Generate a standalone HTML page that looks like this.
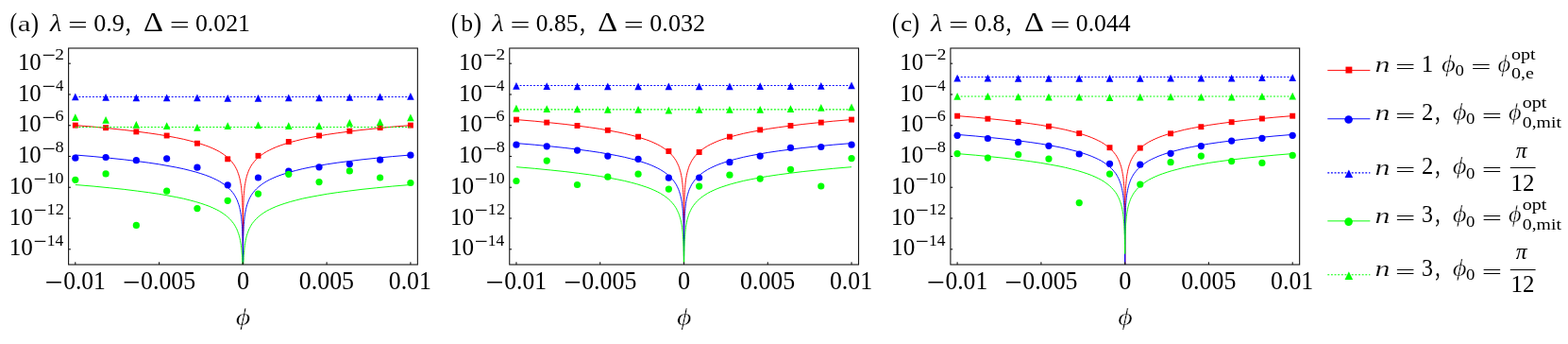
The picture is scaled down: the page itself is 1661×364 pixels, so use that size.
<!DOCTYPE html>
<html lang="en"><head><meta charset="utf-8"><title>figure</title><style>html,body{margin:0;padding:0;background:#fff}svg{display:block}</style></head><body>
<svg width="1661" height="364" viewBox="0 0 1661 364" font-family='"Liberation Serif", serif' fill="#000">
<rect width="1661" height="364" fill="#fff"/>
<text transform="translate(10.62 33.72) scale(0.895 1.153)" font-size="25.5">(</text>
<text transform="translate(18.82 33.25) scale(1.227 0.890)" font-size="25.5" stroke="#fff" stroke-width="0.19">a</text>
<text transform="translate(32.82 33.72) scale(0.971 1.153)" font-size="25.5">)</text>
<text transform="translate(53.02 33.38) scale(1.120 1.011)" font-size="25.5" font-style="italic" stroke="#fff" stroke-width="0.10">λ</text>
<text transform="translate(72.08 34.32) scale(1.446 0.935)" font-size="25.5">=</text>
<text transform="translate(99.13 33.25) scale(1.024 1.015)" font-size="25.5">0.9</text>
<text transform="translate(132.68 33.43) scale(0.964 1.185)" font-size="25.5">,</text>
<text transform="translate(151.98 33.28) scale(1.276 1.114)" font-size="25.5">Δ</text>
<text transform="translate(179.66 34.32) scale(1.463 0.935)" font-size="25.5">=</text>
<text transform="translate(206.94 33.25) scale(1.011 1.015)" font-size="25.5">0.021</text>
<text transform="translate(477.93 33.72) scale(0.879 1.153)" font-size="25.5">(</text>
<text transform="translate(488.22 33.25) scale(1.007 1.000)" font-size="25.5">b</text>
<text transform="translate(501.38 33.72) scale(1.017 1.153)" font-size="25.5">)</text>
<text transform="translate(521.32 33.38) scale(1.129 1.011)" font-size="25.5" font-style="italic" stroke="#fff" stroke-width="0.11">λ</text>
<text transform="translate(540.56 34.32) scale(1.463 0.935)" font-size="25.5">=</text>
<text transform="translate(567.85 33.25) scale(0.998 1.015)" font-size="25.5">0.85</text>
<text transform="translate(613.98 33.43) scale(0.964 1.185)" font-size="25.5">,</text>
<text transform="translate(633.18 33.28) scale(1.276 1.114)" font-size="25.5">Δ</text>
<text transform="translate(660.86 34.32) scale(1.463 0.935)" font-size="25.5">=</text>
<text transform="translate(688.33 33.25) scale(1.023 1.015)" font-size="25.5">0.032</text>
<text transform="translate(944.92 33.72) scale(0.895 1.153)" font-size="25.5">(</text>
<text transform="translate(953.88 33.25) scale(1.073 0.890)" font-size="25.5">c</text>
<text transform="translate(965.72 33.72) scale(0.971 1.153)" font-size="25.5">)</text>
<text transform="translate(985.92 33.38) scale(1.120 1.011)" font-size="25.5" font-style="italic" stroke="#fff" stroke-width="0.10">λ</text>
<text transform="translate(1004.98 34.32) scale(1.446 0.935)" font-size="25.5">=</text>
<text transform="translate(1032.03 33.25) scale(1.021 1.015)" font-size="25.5">0.8</text>
<text transform="translate(1065.58 33.43) scale(0.964 1.185)" font-size="25.5">,</text>
<text transform="translate(1084.88 33.28) scale(1.276 1.114)" font-size="25.5">Δ</text>
<text transform="translate(1112.56 34.32) scale(1.463 0.935)" font-size="25.5">=</text>
<text transform="translate(1139.84 33.25) scale(1.008 1.015)" font-size="25.5">0.044</text>
<g>
<path d="M79.8,132.6 99.1,134.2 116.3,135.9 131.7,137.5 145.3,139.2 157.5,140.8 168.4,142.4 178.0,144.1 186.7,145.7 194.4,147.3 201.2,149.0 207.3,150.6 212.8,152.3 217.6,153.9 221.9,155.5 225.8,157.2 229.2,158.8 232.3,160.4 235.0,162.1 237.4,163.7 239.6,165.4 241.5,167.0 243.2,168.6 244.8,170.3 246.1,171.9 247.4,173.5 248.5,175.2 249.4,176.8 250.3,178.5 251.1,180.1 251.7,181.7 252.3,183.4 252.9,185.0 253.4,186.7 253.8,188.3 254.2,189.9 254.5,191.6 254.8,193.2 255.1,194.8 255.4,196.5 255.6,198.1 255.8,199.8 255.9,201.4 256.1,203.0 256.2,204.7 256.4,206.3 256.5,207.9 256.6,209.6 256.6,211.2 256.7,212.9 256.8,214.5 256.8,216.1 256.9,217.8 257.0,219.4 257.0,221.1 257.0,222.7 257.1,224.3 257.1,226.0 257.1,227.6 257.2,229.2 257.2,230.9 257.4,280.0 257.5,230.9 257.5,229.2 257.6,227.6 257.6,226.0 257.6,224.3 257.7,222.7 257.7,221.1 257.7,219.4 257.8,217.8 257.9,216.1 257.9,214.5 258.0,212.9 258.1,211.2 258.1,209.6 258.2,207.9 258.3,206.3 258.5,204.7 258.6,203.0 258.8,201.4 258.9,199.8 259.1,198.1 259.3,196.5 259.6,194.8 259.9,193.2 260.2,191.6 260.5,189.9 260.9,188.3 261.3,186.7 261.8,185.0 262.4,183.4 263.0,181.7 263.6,180.1 264.4,178.5 265.3,176.8 266.2,175.2 267.3,173.5 268.6,171.9 269.9,170.3 271.5,168.6 273.2,167.0 275.1,165.4 277.3,163.7 279.7,162.1 282.4,160.4 285.5,158.8 288.9,157.2 292.8,155.5 297.1,153.9 301.9,152.3 307.4,150.6 313.5,149.0 320.3,147.3 328.0,145.7 336.7,144.1 346.3,142.4 357.2,140.8 369.4,139.2 383.0,137.5 398.4,135.9 415.6,134.2 434.9,132.6" fill="none" stroke="#ff0000" stroke-width="0.95" stroke-linejoin="round"/>
<rect x="76.85" y="129.65" width="5.9" height="5.9" fill="#ff0000"/>
<rect x="109.13" y="132.25" width="5.9" height="5.9" fill="#ff0000"/>
<rect x="141.41" y="136.45" width="5.9" height="5.9" fill="#ff0000"/>
<rect x="173.70" y="140.55" width="5.9" height="5.9" fill="#ff0000"/>
<rect x="205.98" y="148.75" width="5.9" height="5.9" fill="#ff0000"/>
<rect x="238.26" y="165.35" width="5.9" height="5.9" fill="#ff0000"/>
<rect x="270.54" y="161.85" width="5.9" height="5.9" fill="#ff0000"/>
<rect x="302.82" y="147.05" width="5.9" height="5.9" fill="#ff0000"/>
<rect x="335.10" y="140.55" width="5.9" height="5.9" fill="#ff0000"/>
<rect x="367.39" y="135.75" width="5.9" height="5.9" fill="#ff0000"/>
<rect x="399.67" y="132.15" width="5.9" height="5.9" fill="#ff0000"/>
<rect x="431.95" y="129.65" width="5.9" height="5.9" fill="#ff0000"/>
<path d="M79.8,164.0 99.1,165.6 116.3,167.3 131.7,168.9 145.3,170.6 157.5,172.2 168.4,173.8 178.0,175.5 186.7,177.1 194.4,178.7 201.2,180.4 207.3,182.0 212.8,183.7 217.6,185.3 221.9,186.9 225.8,188.6 229.2,190.2 232.3,191.8 235.0,193.5 237.4,195.1 239.6,196.8 241.5,198.4 243.2,200.0 244.8,201.7 246.1,203.3 247.4,204.9 248.5,206.6 249.4,208.2 250.3,209.9 251.1,211.5 251.7,213.1 252.3,214.8 252.9,216.4 253.4,218.1 253.8,219.7 254.2,221.3 254.5,223.0 254.8,224.6 255.1,226.2 255.4,227.9 255.6,229.5 255.8,231.2 255.9,232.8 256.1,234.4 256.2,236.1 256.4,237.7 256.5,239.3 256.6,241.0 256.6,242.6 256.7,244.3 256.8,245.9 256.8,247.5 256.9,249.2 257.0,250.8 257.0,252.5 257.0,254.1 257.1,255.7 257.1,257.4 257.1,259.0 257.2,260.6 257.2,262.3 257.4,280.0 257.5,262.3 257.5,260.6 257.6,259.0 257.6,257.4 257.6,255.7 257.7,254.1 257.7,252.5 257.7,250.8 257.8,249.2 257.9,247.5 257.9,245.9 258.0,244.3 258.1,242.6 258.1,241.0 258.2,239.3 258.3,237.7 258.5,236.1 258.6,234.4 258.8,232.8 258.9,231.2 259.1,229.5 259.3,227.9 259.6,226.2 259.9,224.6 260.2,223.0 260.5,221.3 260.9,219.7 261.3,218.1 261.8,216.4 262.4,214.8 263.0,213.1 263.6,211.5 264.4,209.9 265.3,208.2 266.2,206.6 267.3,204.9 268.6,203.3 269.9,201.7 271.5,200.0 273.2,198.4 275.1,196.8 277.3,195.1 279.7,193.5 282.4,191.8 285.5,190.2 288.9,188.6 292.8,186.9 297.1,185.3 301.9,183.7 307.4,182.0 313.5,180.4 320.3,178.7 328.0,177.1 336.7,175.5 346.3,173.8 357.2,172.2 369.4,170.6 383.0,168.9 398.4,167.3 415.6,165.6 434.9,164.0" fill="none" stroke="#0000ff" stroke-width="0.95" stroke-linejoin="round"/>
<circle cx="79.80" cy="167.20" r="3.6" fill="#0000ff"/>
<circle cx="112.08" cy="166.50" r="3.6" fill="#0000ff"/>
<circle cx="144.36" cy="169.70" r="3.6" fill="#0000ff"/>
<circle cx="176.65" cy="167.80" r="3.6" fill="#0000ff"/>
<circle cx="208.93" cy="177.20" r="3.6" fill="#0000ff"/>
<circle cx="241.21" cy="195.80" r="3.6" fill="#0000ff"/>
<circle cx="273.49" cy="188.00" r="3.6" fill="#0000ff"/>
<circle cx="305.77" cy="181.10" r="3.6" fill="#0000ff"/>
<circle cx="338.05" cy="176.80" r="3.6" fill="#0000ff"/>
<circle cx="370.34" cy="173.60" r="3.6" fill="#0000ff"/>
<circle cx="402.62" cy="169.20" r="3.6" fill="#0000ff"/>
<circle cx="434.90" cy="164.20" r="3.6" fill="#0000ff"/>
<line x1="79.80" x2="434.90" y1="102.5" y2="102.5" stroke="#0000ff" stroke-width="1.1" stroke-dasharray="1.9 1.74"/>
<polygon points="79.80,98.40 83.58,106.15 76.03,106.15" fill="#0000ff"/>
<polygon points="112.08,99.10 115.86,106.85 108.31,106.85" fill="#0000ff"/>
<polygon points="144.36,99.50 148.14,107.25 140.59,107.25" fill="#0000ff"/>
<polygon points="176.65,99.50 180.42,107.25 172.87,107.25" fill="#0000ff"/>
<polygon points="208.93,99.50 212.70,107.25 205.15,107.25" fill="#0000ff"/>
<polygon points="241.21,100.00 244.98,107.75 237.43,107.75" fill="#0000ff"/>
<polygon points="273.49,100.00 277.27,107.75 269.72,107.75" fill="#0000ff"/>
<polygon points="305.77,99.50 309.55,107.25 302.00,107.25" fill="#0000ff"/>
<polygon points="338.05,99.50 341.83,107.25 334.28,107.25" fill="#0000ff"/>
<polygon points="370.34,99.10 374.11,106.85 366.56,106.85" fill="#0000ff"/>
<polygon points="402.62,98.60 406.39,106.35 398.84,106.35" fill="#0000ff"/>
<polygon points="434.90,97.90 438.68,105.65 431.13,105.65" fill="#0000ff"/>
<path d="M79.8,195.5 99.1,197.1 116.3,198.8 131.7,200.4 145.3,202.1 157.5,203.7 168.4,205.3 178.0,207.0 186.7,208.6 194.4,210.2 201.2,211.9 207.3,213.5 212.8,215.2 217.6,216.8 221.9,218.4 225.8,220.1 229.2,221.7 232.3,223.3 235.0,225.0 237.4,226.6 239.6,228.3 241.5,229.9 243.2,231.5 244.8,233.2 246.1,234.8 247.4,236.4 248.5,238.1 249.4,239.7 250.3,241.4 251.1,243.0 251.7,244.6 252.3,246.3 252.9,247.9 253.4,249.6 253.8,251.2 254.2,252.8 254.5,254.5 254.8,256.1 255.1,257.7 255.4,259.4 255.6,261.0 255.8,262.7 255.9,264.3 256.1,265.9 256.2,267.6 256.4,269.2 256.5,270.8 256.6,272.5 256.6,274.1 256.7,275.8 256.8,277.4 256.8,279.0 257.4,280.0 257.9,279.0 257.9,277.4 258.0,275.8 258.1,274.1 258.1,272.5 258.2,270.8 258.3,269.2 258.5,267.6 258.6,265.9 258.8,264.3 258.9,262.7 259.1,261.0 259.3,259.4 259.6,257.7 259.9,256.1 260.2,254.5 260.5,252.8 260.9,251.2 261.3,249.6 261.8,247.9 262.4,246.3 263.0,244.6 263.6,243.0 264.4,241.4 265.3,239.7 266.2,238.1 267.3,236.4 268.6,234.8 269.9,233.2 271.5,231.5 273.2,229.9 275.1,228.3 277.3,226.6 279.7,225.0 282.4,223.3 285.5,221.7 288.9,220.1 292.8,218.4 297.1,216.8 301.9,215.2 307.4,213.5 313.5,211.9 320.3,210.2 328.0,208.6 336.7,207.0 346.3,205.3 357.2,203.7 369.4,202.1 383.0,200.4 398.4,198.8 415.6,197.1 434.9,195.5" fill="none" stroke="#00ff00" stroke-width="0.95" stroke-linejoin="round"/>
<circle cx="79.80" cy="190.30" r="3.6" fill="#00ff00"/>
<circle cx="112.08" cy="183.90" r="3.6" fill="#00ff00"/>
<circle cx="144.36" cy="238.40" r="3.6" fill="#00ff00"/>
<circle cx="176.65" cy="202.20" r="3.6" fill="#00ff00"/>
<circle cx="208.93" cy="220.60" r="3.6" fill="#00ff00"/>
<circle cx="241.21" cy="212.30" r="3.6" fill="#00ff00"/>
<circle cx="273.49" cy="205.10" r="3.6" fill="#00ff00"/>
<circle cx="305.77" cy="184.30" r="3.6" fill="#00ff00"/>
<circle cx="338.05" cy="192.60" r="3.6" fill="#00ff00"/>
<circle cx="370.34" cy="180.90" r="3.6" fill="#00ff00"/>
<circle cx="402.62" cy="188.00" r="3.6" fill="#00ff00"/>
<circle cx="434.90" cy="193.50" r="3.6" fill="#00ff00"/>
<line x1="79.80" x2="434.90" y1="134.5" y2="134.5" stroke="#00ff00" stroke-width="1.1" stroke-dasharray="1.9 1.74"/>
<polygon points="79.80,120.30 83.58,128.05 76.03,128.05" fill="#00ff00"/>
<polygon points="112.08,123.00 115.86,130.75 108.31,130.75" fill="#00ff00"/>
<polygon points="144.36,128.10 148.14,135.85 140.59,135.85" fill="#00ff00"/>
<polygon points="176.65,129.30 180.42,137.05 172.87,137.05" fill="#00ff00"/>
<polygon points="208.93,131.10 212.70,138.85 205.15,138.85" fill="#00ff00"/>
<polygon points="241.21,129.30 244.98,137.05 237.43,137.05" fill="#00ff00"/>
<polygon points="273.49,128.60 277.27,136.35 269.72,136.35" fill="#00ff00"/>
<polygon points="305.77,129.30 309.55,137.05 302.00,137.05" fill="#00ff00"/>
<polygon points="338.05,129.30 341.83,137.05 334.28,137.05" fill="#00ff00"/>
<polygon points="370.34,126.10 374.11,133.85 366.56,133.85" fill="#00ff00"/>
<polygon points="402.62,125.20 406.39,132.95 398.84,132.95" fill="#00ff00"/>
<polygon points="434.90,120.60 438.68,128.35 431.13,128.35" fill="#00ff00"/>
<rect x="72.60" y="51.0" width="369.75" height="229.00" fill="none" stroke="#151515" stroke-width="1.1"/>
<line x1="72.60" x2="74.90" y1="67.20" y2="67.20" stroke="#151515" stroke-width="1.1"/>
<text transform="translate(18.93 73.83) scale(0.976 1.020)" font-size="25.5">10</text>
<text transform="translate(44.55 66.28) scale(0.999 0.913)" font-size="25.5">−</text>
<text transform="translate(58.37 63.08) scale(0.759 0.673)" font-size="25.5">2</text>
<line x1="72.60" x2="74.90" y1="99.96" y2="99.96" stroke="#151515" stroke-width="1.1"/>
<text transform="translate(18.93 106.59) scale(0.976 1.020)" font-size="25.5">10</text>
<text transform="translate(44.55 99.04) scale(0.999 0.913)" font-size="25.5">−</text>
<text transform="translate(58.89 95.84) scale(0.655 0.677)" font-size="25.5">4</text>
<line x1="72.60" x2="74.90" y1="132.72" y2="132.72" stroke="#151515" stroke-width="1.1"/>
<text transform="translate(18.93 139.35) scale(0.976 1.020)" font-size="25.5">10</text>
<text transform="translate(44.55 131.80) scale(0.999 0.913)" font-size="25.5">−</text>
<text transform="translate(58.44 128.43) scale(0.712 0.663)" font-size="25.5">6</text>
<line x1="72.60" x2="74.90" y1="165.48" y2="165.48" stroke="#151515" stroke-width="1.1"/>
<text transform="translate(18.93 172.11) scale(0.976 1.020)" font-size="25.5">10</text>
<text transform="translate(44.55 164.56) scale(0.999 0.913)" font-size="25.5">−</text>
<text transform="translate(58.52 161.20) scale(0.718 0.660)" font-size="25.5">8</text>
<line x1="72.60" x2="74.90" y1="198.24" y2="198.24" stroke="#151515" stroke-width="1.1"/>
<text transform="translate(9.81 204.87) scale(0.985 1.020)" font-size="25.5">10</text>
<text transform="translate(35.48 197.32) scale(0.974 0.913)" font-size="25.5">−</text>
<text transform="translate(49.65 193.96) scale(0.703 0.660)" font-size="25.5">10</text>
<line x1="72.60" x2="74.90" y1="231.00" y2="231.00" stroke="#151515" stroke-width="1.1"/>
<text transform="translate(9.81 237.63) scale(0.985 1.020)" font-size="25.5">10</text>
<text transform="translate(35.48 230.08) scale(0.974 0.913)" font-size="25.5">−</text>
<text transform="translate(49.61 226.88) scale(0.717 0.673)" font-size="25.5">12</text>
<line x1="72.60" x2="74.90" y1="263.76" y2="263.76" stroke="#151515" stroke-width="1.1"/>
<text transform="translate(9.81 270.39) scale(0.985 1.020)" font-size="25.5">10</text>
<text transform="translate(35.48 262.84) scale(0.974 0.913)" font-size="25.5">−</text>
<text transform="translate(49.68 259.64) scale(0.685 0.675)" font-size="25.5">14</text>
<line x1="79.80" x2="79.80" y1="280.0" y2="277.2" stroke="#151515" stroke-width="1.1"/>
<line x1="168.58" x2="168.58" y1="280.0" y2="277.2" stroke="#151515" stroke-width="1.1"/>
<line x1="257.35" x2="257.35" y1="280.0" y2="277.2" stroke="#151515" stroke-width="1.1"/>
<line x1="346.12" x2="346.12" y1="280.0" y2="277.2" stroke="#151515" stroke-width="1.1"/>
<line x1="434.90" x2="434.90" y1="280.0" y2="277.2" stroke="#151515" stroke-width="1.1"/>
<text transform="translate(47.42 309.30) scale(1.337 1.228)" font-size="25.5">−</text>
<text transform="translate(67.15 305.51) scale(1.003 1.031)" font-size="25.5">0.01</text>
<text transform="translate(129.98 309.30) scale(1.294 1.228)" font-size="25.5">−</text>
<text transform="translate(149.03 305.70) scale(1.015 1.043)" font-size="25.5">0.005</text>
<text transform="translate(250.92 305.82) scale(1.033 1.050)" font-size="25.5">0</text>
<text transform="translate(316.83 305.70) scale(1.015 1.043)" font-size="25.5">0.005</text>
<text transform="translate(411.74 305.51) scale(1.013 1.031)" font-size="25.5">0.01</text>
<text transform="translate(249.83 343.72) scale(1.178 1.006)" font-size="25.5" font-style="italic" stroke="#fff" stroke-width="0.40">ϕ</text>
</g>
<g>
<path d="M547.0,126.6 566.3,128.2 583.5,129.9 598.8,131.5 612.5,133.2 624.7,134.8 635.5,136.4 645.2,138.1 653.8,139.7 661.5,141.3 668.4,143.0 674.5,144.6 679.9,146.3 684.8,147.9 689.1,149.5 692.9,151.2 696.4,152.8 699.4,154.4 702.1,156.1 704.6,157.7 706.7,159.4 708.7,161.0 710.4,162.6 711.9,164.3 713.3,165.9 714.5,167.5 715.6,169.2 716.6,170.8 717.4,172.5 718.2,174.1 718.9,175.7 719.5,177.4 720.0,179.0 720.5,180.7 721.0,182.3 721.3,183.9 721.7,185.6 722.0,187.2 722.3,188.8 722.5,190.5 722.7,192.1 722.9,193.8 723.1,195.4 723.2,197.0 723.4,198.7 723.5,200.3 723.6,201.9 723.7,203.6 723.8,205.2 723.9,206.9 723.9,208.5 724.0,210.1 724.1,211.8 724.1,213.4 724.1,215.1 724.2,216.7 724.2,218.3 724.2,220.0 724.3,221.6 724.3,223.2 724.3,224.9 724.5,280.0 724.7,224.9 724.7,223.2 724.7,221.6 724.8,220.0 724.8,218.3 724.8,216.7 724.9,215.1 724.9,213.4 724.9,211.8 725.0,210.1 725.1,208.5 725.1,206.9 725.2,205.2 725.3,203.6 725.4,201.9 725.5,200.3 725.6,198.7 725.8,197.0 725.9,195.4 726.1,193.8 726.3,192.1 726.5,190.5 726.7,188.8 727.0,187.2 727.3,185.6 727.7,183.9 728.0,182.3 728.5,180.7 729.0,179.0 729.5,177.4 730.1,175.7 730.8,174.1 731.6,172.5 732.4,170.8 733.4,169.2 734.5,167.5 735.7,165.9 737.1,164.3 738.6,162.6 740.3,161.0 742.3,159.4 744.4,157.7 746.9,156.1 749.6,154.4 752.6,152.8 756.1,151.2 759.9,149.5 764.2,147.9 769.1,146.3 774.5,144.6 780.6,143.0 787.5,141.3 795.2,139.7 803.8,138.1 813.5,136.4 824.3,134.8 836.5,133.2 850.2,131.5 865.5,129.9 882.7,128.2 902.0,126.6" fill="none" stroke="#ff0000" stroke-width="0.95" stroke-linejoin="round"/>
<rect x="544.00" y="123.65" width="5.9" height="5.9" fill="#ff0000"/>
<rect x="576.28" y="126.65" width="5.9" height="5.9" fill="#ff0000"/>
<rect x="608.56" y="130.05" width="5.9" height="5.9" fill="#ff0000"/>
<rect x="640.85" y="134.85" width="5.9" height="5.9" fill="#ff0000"/>
<rect x="673.13" y="141.75" width="5.9" height="5.9" fill="#ff0000"/>
<rect x="705.41" y="157.05" width="5.9" height="5.9" fill="#ff0000"/>
<rect x="737.69" y="158.05" width="5.9" height="5.9" fill="#ff0000"/>
<rect x="769.97" y="141.75" width="5.9" height="5.9" fill="#ff0000"/>
<rect x="802.25" y="134.45" width="5.9" height="5.9" fill="#ff0000"/>
<rect x="834.54" y="130.05" width="5.9" height="5.9" fill="#ff0000"/>
<rect x="866.82" y="126.65" width="5.9" height="5.9" fill="#ff0000"/>
<rect x="899.10" y="123.65" width="5.9" height="5.9" fill="#ff0000"/>
<path d="M547.0,151.6 566.3,153.2 583.5,154.9 598.8,156.5 612.5,158.2 624.7,159.8 635.5,161.4 645.2,163.1 653.8,164.7 661.5,166.3 668.4,168.0 674.5,169.6 679.9,171.3 684.8,172.9 689.1,174.5 692.9,176.2 696.4,177.8 699.4,179.4 702.1,181.1 704.6,182.7 706.7,184.4 708.7,186.0 710.4,187.6 711.9,189.3 713.3,190.9 714.5,192.5 715.6,194.2 716.6,195.8 717.4,197.5 718.2,199.1 718.9,200.7 719.5,202.4 720.0,204.0 720.5,205.7 721.0,207.3 721.3,208.9 721.7,210.6 722.0,212.2 722.3,213.8 722.5,215.5 722.7,217.1 722.9,218.8 723.1,220.4 723.2,222.0 723.4,223.7 723.5,225.3 723.6,226.9 723.7,228.6 723.8,230.2 723.9,231.9 723.9,233.5 724.0,235.1 724.1,236.8 724.1,238.4 724.1,240.1 724.2,241.7 724.2,243.3 724.2,245.0 724.3,246.6 724.3,248.2 724.3,249.9 724.5,280.0 724.7,249.9 724.7,248.2 724.7,246.6 724.8,245.0 724.8,243.3 724.8,241.7 724.9,240.1 724.9,238.4 724.9,236.8 725.0,235.1 725.1,233.5 725.1,231.9 725.2,230.2 725.3,228.6 725.4,226.9 725.5,225.3 725.6,223.7 725.8,222.0 725.9,220.4 726.1,218.8 726.3,217.1 726.5,215.5 726.7,213.8 727.0,212.2 727.3,210.6 727.7,208.9 728.0,207.3 728.5,205.7 729.0,204.0 729.5,202.4 730.1,200.7 730.8,199.1 731.6,197.5 732.4,195.8 733.4,194.2 734.5,192.5 735.7,190.9 737.1,189.3 738.6,187.6 740.3,186.0 742.3,184.4 744.4,182.7 746.9,181.1 749.6,179.4 752.6,177.8 756.1,176.2 759.9,174.5 764.2,172.9 769.1,171.3 774.5,169.6 780.6,168.0 787.5,166.3 795.2,164.7 803.8,163.1 813.5,161.4 824.3,159.8 836.5,158.2 850.2,156.5 865.5,154.9 882.7,153.2 902.0,151.6" fill="none" stroke="#0000ff" stroke-width="0.95" stroke-linejoin="round"/>
<circle cx="546.95" cy="153.20" r="3.6" fill="#0000ff"/>
<circle cx="579.23" cy="154.80" r="3.6" fill="#0000ff"/>
<circle cx="611.51" cy="159.10" r="3.6" fill="#0000ff"/>
<circle cx="643.80" cy="165.10" r="3.6" fill="#0000ff"/>
<circle cx="676.08" cy="168.30" r="3.6" fill="#0000ff"/>
<circle cx="708.36" cy="188.20" r="3.6" fill="#0000ff"/>
<circle cx="740.64" cy="188.00" r="3.6" fill="#0000ff"/>
<circle cx="772.92" cy="171.70" r="3.6" fill="#0000ff"/>
<circle cx="805.20" cy="165.10" r="3.6" fill="#0000ff"/>
<circle cx="837.49" cy="156.40" r="3.6" fill="#0000ff"/>
<circle cx="869.77" cy="155.50" r="3.6" fill="#0000ff"/>
<circle cx="902.05" cy="153.20" r="3.6" fill="#0000ff"/>
<line x1="546.95" x2="902.05" y1="90.5" y2="90.5" stroke="#0000ff" stroke-width="1.1" stroke-dasharray="1.9 1.74"/>
<polygon points="546.95,87.00 550.73,94.75 543.18,94.75" fill="#0000ff"/>
<polygon points="579.23,87.20 583.01,94.95 575.46,94.95" fill="#0000ff"/>
<polygon points="611.51,87.60 615.29,95.35 607.74,95.35" fill="#0000ff"/>
<polygon points="643.80,87.60 647.57,95.35 640.02,95.35" fill="#0000ff"/>
<polygon points="676.08,87.60 679.85,95.35 672.30,95.35" fill="#0000ff"/>
<polygon points="708.36,87.60 712.13,95.35 704.58,95.35" fill="#0000ff"/>
<polygon points="740.64,87.60 744.42,95.35 736.87,95.35" fill="#0000ff"/>
<polygon points="772.92,87.60 776.70,95.35 769.15,95.35" fill="#0000ff"/>
<polygon points="805.20,87.20 808.98,94.95 801.43,94.95" fill="#0000ff"/>
<polygon points="837.49,87.20 841.26,94.95 833.71,94.95" fill="#0000ff"/>
<polygon points="869.77,87.00 873.54,94.75 865.99,94.75" fill="#0000ff"/>
<polygon points="902.05,86.50 905.82,94.25 898.27,94.25" fill="#0000ff"/>
<path d="M547.0,176.7 566.3,178.3 583.5,180.0 598.8,181.6 612.5,183.3 624.7,184.9 635.5,186.5 645.2,188.2 653.8,189.8 661.5,191.4 668.4,193.1 674.5,194.7 679.9,196.4 684.8,198.0 689.1,199.6 692.9,201.3 696.4,202.9 699.4,204.5 702.1,206.2 704.6,207.8 706.7,209.5 708.7,211.1 710.4,212.7 711.9,214.4 713.3,216.0 714.5,217.6 715.6,219.3 716.6,220.9 717.4,222.6 718.2,224.2 718.9,225.8 719.5,227.5 720.0,229.1 720.5,230.8 721.0,232.4 721.3,234.0 721.7,235.7 722.0,237.3 722.3,238.9 722.5,240.6 722.7,242.2 722.9,243.9 723.1,245.5 723.2,247.1 723.4,248.8 723.5,250.4 723.6,252.0 723.7,253.7 723.8,255.3 723.9,257.0 723.9,258.6 724.0,260.2 724.1,261.9 724.1,263.5 724.1,265.2 724.2,266.8 724.2,268.4 724.2,270.1 724.3,271.7 724.3,273.3 724.3,275.0 724.5,280.0 724.7,275.0 724.7,273.3 724.7,271.7 724.8,270.1 724.8,268.4 724.8,266.8 724.9,265.2 724.9,263.5 724.9,261.9 725.0,260.2 725.1,258.6 725.1,257.0 725.2,255.3 725.3,253.7 725.4,252.0 725.5,250.4 725.6,248.8 725.8,247.1 725.9,245.5 726.1,243.9 726.3,242.2 726.5,240.6 726.7,238.9 727.0,237.3 727.3,235.7 727.7,234.0 728.0,232.4 728.5,230.8 729.0,229.1 729.5,227.5 730.1,225.8 730.8,224.2 731.6,222.6 732.4,220.9 733.4,219.3 734.5,217.6 735.7,216.0 737.1,214.4 738.6,212.7 740.3,211.1 742.3,209.5 744.4,207.8 746.9,206.2 749.6,204.5 752.6,202.9 756.1,201.3 759.9,199.6 764.2,198.0 769.1,196.4 774.5,194.7 780.6,193.1 787.5,191.4 795.2,189.8 803.8,188.2 813.5,186.5 824.3,184.9 836.5,183.3 850.2,181.6 865.5,180.0 882.7,178.3 902.0,176.7" fill="none" stroke="#00ff00" stroke-width="0.95" stroke-linejoin="round"/>
<circle cx="546.95" cy="191.50" r="3.6" fill="#00ff00"/>
<circle cx="579.23" cy="170.10" r="3.6" fill="#00ff00"/>
<circle cx="611.51" cy="195.50" r="3.6" fill="#00ff00"/>
<circle cx="643.80" cy="187.20" r="3.6" fill="#00ff00"/>
<circle cx="676.08" cy="184.20" r="3.6" fill="#00ff00"/>
<circle cx="708.36" cy="200.10" r="3.6" fill="#00ff00"/>
<circle cx="740.64" cy="197.10" r="3.6" fill="#00ff00"/>
<circle cx="772.92" cy="185.20" r="3.6" fill="#00ff00"/>
<circle cx="805.20" cy="189.10" r="3.6" fill="#00ff00"/>
<circle cx="837.49" cy="179.30" r="3.6" fill="#00ff00"/>
<circle cx="869.77" cy="197.00" r="3.6" fill="#00ff00"/>
<circle cx="902.05" cy="167.60" r="3.6" fill="#00ff00"/>
<line x1="546.95" x2="902.05" y1="115.85" y2="115.85" stroke="#00ff00" stroke-width="1.1" stroke-dasharray="1.9 1.74"/>
<polygon points="546.95,110.70 550.73,118.45 543.18,118.45" fill="#00ff00"/>
<polygon points="579.23,111.20 583.01,118.95 575.46,118.95" fill="#00ff00"/>
<polygon points="611.51,111.60 615.29,119.35 607.74,119.35" fill="#00ff00"/>
<polygon points="643.80,111.90 647.57,119.65 640.02,119.65" fill="#00ff00"/>
<polygon points="676.08,111.90 679.85,119.65 672.30,119.65" fill="#00ff00"/>
<polygon points="708.36,112.80 712.13,120.55 704.58,120.55" fill="#00ff00"/>
<polygon points="740.64,112.10 744.42,119.85 736.87,119.85" fill="#00ff00"/>
<polygon points="772.92,112.10 776.70,119.85 769.15,119.85" fill="#00ff00"/>
<polygon points="805.20,111.90 808.98,119.65 801.43,119.65" fill="#00ff00"/>
<polygon points="837.49,111.20 841.26,118.95 833.71,118.95" fill="#00ff00"/>
<polygon points="869.77,110.00 873.54,117.75 865.99,117.75" fill="#00ff00"/>
<polygon points="902.05,109.60 905.82,117.35 898.27,117.35" fill="#00ff00"/>
<rect x="539.75" y="51.0" width="369.75" height="229.00" fill="none" stroke="#151515" stroke-width="1.1"/>
<line x1="539.75" x2="542.05" y1="67.20" y2="67.20" stroke="#151515" stroke-width="1.1"/>
<text transform="translate(486.08 73.83) scale(0.976 1.020)" font-size="25.5">10</text>
<text transform="translate(511.70 66.28) scale(0.999 0.913)" font-size="25.5">−</text>
<text transform="translate(525.52 63.08) scale(0.759 0.673)" font-size="25.5">2</text>
<line x1="539.75" x2="542.05" y1="99.96" y2="99.96" stroke="#151515" stroke-width="1.1"/>
<text transform="translate(486.08 106.59) scale(0.976 1.020)" font-size="25.5">10</text>
<text transform="translate(511.70 99.04) scale(0.999 0.913)" font-size="25.5">−</text>
<text transform="translate(526.04 95.84) scale(0.655 0.677)" font-size="25.5">4</text>
<line x1="539.75" x2="542.05" y1="132.72" y2="132.72" stroke="#151515" stroke-width="1.1"/>
<text transform="translate(486.08 139.35) scale(0.976 1.020)" font-size="25.5">10</text>
<text transform="translate(511.70 131.80) scale(0.999 0.913)" font-size="25.5">−</text>
<text transform="translate(525.59 128.43) scale(0.712 0.663)" font-size="25.5">6</text>
<line x1="539.75" x2="542.05" y1="165.48" y2="165.48" stroke="#151515" stroke-width="1.1"/>
<text transform="translate(486.08 172.11) scale(0.976 1.020)" font-size="25.5">10</text>
<text transform="translate(511.70 164.56) scale(0.999 0.913)" font-size="25.5">−</text>
<text transform="translate(525.67 161.20) scale(0.718 0.660)" font-size="25.5">8</text>
<line x1="539.75" x2="542.05" y1="198.24" y2="198.24" stroke="#151515" stroke-width="1.1"/>
<text transform="translate(476.96 204.87) scale(0.985 1.020)" font-size="25.5">10</text>
<text transform="translate(502.63 197.32) scale(0.974 0.913)" font-size="25.5">−</text>
<text transform="translate(516.80 193.96) scale(0.703 0.660)" font-size="25.5">10</text>
<line x1="539.75" x2="542.05" y1="231.00" y2="231.00" stroke="#151515" stroke-width="1.1"/>
<text transform="translate(476.96 237.63) scale(0.985 1.020)" font-size="25.5">10</text>
<text transform="translate(502.63 230.08) scale(0.974 0.913)" font-size="25.5">−</text>
<text transform="translate(516.76 226.88) scale(0.717 0.673)" font-size="25.5">12</text>
<line x1="539.75" x2="542.05" y1="263.76" y2="263.76" stroke="#151515" stroke-width="1.1"/>
<text transform="translate(476.96 270.39) scale(0.985 1.020)" font-size="25.5">10</text>
<text transform="translate(502.63 262.84) scale(0.974 0.913)" font-size="25.5">−</text>
<text transform="translate(516.83 259.64) scale(0.685 0.675)" font-size="25.5">14</text>
<line x1="546.95" x2="546.95" y1="280.0" y2="277.2" stroke="#151515" stroke-width="1.1"/>
<line x1="635.73" x2="635.73" y1="280.0" y2="277.2" stroke="#151515" stroke-width="1.1"/>
<line x1="724.50" x2="724.50" y1="280.0" y2="277.2" stroke="#151515" stroke-width="1.1"/>
<line x1="813.27" x2="813.27" y1="280.0" y2="277.2" stroke="#151515" stroke-width="1.1"/>
<line x1="902.05" x2="902.05" y1="280.0" y2="277.2" stroke="#151515" stroke-width="1.1"/>
<text transform="translate(514.57 309.30) scale(1.337 1.228)" font-size="25.5">−</text>
<text transform="translate(534.30 305.51) scale(1.003 1.031)" font-size="25.5">0.01</text>
<text transform="translate(597.13 309.30) scale(1.294 1.228)" font-size="25.5">−</text>
<text transform="translate(616.18 305.70) scale(1.015 1.043)" font-size="25.5">0.005</text>
<text transform="translate(718.07 305.82) scale(1.033 1.050)" font-size="25.5">0</text>
<text transform="translate(783.98 305.70) scale(1.015 1.043)" font-size="25.5">0.005</text>
<text transform="translate(878.89 305.51) scale(1.013 1.031)" font-size="25.5">0.01</text>
<text transform="translate(716.98 343.72) scale(1.178 1.006)" font-size="25.5" font-style="italic" stroke="#fff" stroke-width="0.40">ϕ</text>
</g>
<g>
<path d="M1014.1,122.6 1033.4,124.2 1050.6,125.9 1066.0,127.5 1079.6,129.2 1091.8,130.8 1102.7,132.4 1112.3,134.1 1121.0,135.7 1128.7,137.3 1135.5,139.0 1141.6,140.6 1147.1,142.3 1151.9,143.9 1156.2,145.5 1160.1,147.2 1163.5,148.8 1166.6,150.4 1169.3,152.1 1171.7,153.7 1173.9,155.4 1175.8,157.0 1177.5,158.6 1179.1,160.3 1180.4,161.9 1181.7,163.5 1182.8,165.2 1183.7,166.8 1184.6,168.5 1185.4,170.1 1186.0,171.7 1186.6,173.4 1187.2,175.0 1187.7,176.7 1188.1,178.3 1188.5,179.9 1188.8,181.6 1189.1,183.2 1189.4,184.8 1189.7,186.5 1189.9,188.1 1190.1,189.8 1190.2,191.4 1190.4,193.0 1190.5,194.7 1190.7,196.3 1190.8,197.9 1190.9,199.6 1190.9,201.2 1191.0,202.9 1191.1,204.5 1191.1,206.1 1191.2,207.8 1191.3,209.4 1191.3,211.1 1191.3,212.7 1191.4,214.3 1191.4,216.0 1191.4,217.6 1191.5,219.2 1191.5,220.9 1191.7,280.0 1191.8,220.9 1191.8,219.2 1191.9,217.6 1191.9,216.0 1191.9,214.3 1192.0,212.7 1192.0,211.1 1192.0,209.4 1192.1,207.8 1192.2,206.1 1192.2,204.5 1192.3,202.9 1192.4,201.2 1192.4,199.6 1192.5,197.9 1192.6,196.3 1192.8,194.7 1192.9,193.0 1193.1,191.4 1193.2,189.8 1193.4,188.1 1193.6,186.5 1193.9,184.8 1194.2,183.2 1194.5,181.6 1194.8,179.9 1195.2,178.3 1195.6,176.7 1196.1,175.0 1196.7,173.4 1197.3,171.7 1197.9,170.1 1198.7,168.5 1199.6,166.8 1200.5,165.2 1201.6,163.5 1202.9,161.9 1204.2,160.3 1205.8,158.6 1207.5,157.0 1209.4,155.4 1211.6,153.7 1214.0,152.1 1216.7,150.4 1219.8,148.8 1223.2,147.2 1227.1,145.5 1231.4,143.9 1236.2,142.3 1241.7,140.6 1247.8,139.0 1254.6,137.3 1262.3,135.7 1271.0,134.1 1280.6,132.4 1291.5,130.8 1303.7,129.2 1317.3,127.5 1332.7,125.9 1349.9,124.2 1369.2,122.6" fill="none" stroke="#ff0000" stroke-width="0.95" stroke-linejoin="round"/>
<rect x="1011.15" y="119.75" width="5.9" height="5.9" fill="#ff0000"/>
<rect x="1043.43" y="122.75" width="5.9" height="5.9" fill="#ff0000"/>
<rect x="1075.71" y="126.25" width="5.9" height="5.9" fill="#ff0000"/>
<rect x="1108.00" y="130.75" width="5.9" height="5.9" fill="#ff0000"/>
<rect x="1140.28" y="138.15" width="5.9" height="5.9" fill="#ff0000"/>
<rect x="1172.56" y="153.25" width="5.9" height="5.9" fill="#ff0000"/>
<rect x="1204.84" y="153.65" width="5.9" height="5.9" fill="#ff0000"/>
<rect x="1237.12" y="138.35" width="5.9" height="5.9" fill="#ff0000"/>
<rect x="1269.40" y="131.25" width="5.9" height="5.9" fill="#ff0000"/>
<rect x="1301.69" y="126.25" width="5.9" height="5.9" fill="#ff0000"/>
<rect x="1333.97" y="122.55" width="5.9" height="5.9" fill="#ff0000"/>
<rect x="1366.25" y="119.75" width="5.9" height="5.9" fill="#ff0000"/>
<path d="M1014.1,142.4 1033.4,144.0 1050.6,145.7 1066.0,147.3 1079.6,149.0 1091.8,150.6 1102.7,152.2 1112.3,153.9 1121.0,155.5 1128.7,157.1 1135.5,158.8 1141.6,160.4 1147.1,162.1 1151.9,163.7 1156.2,165.3 1160.1,167.0 1163.5,168.6 1166.6,170.2 1169.3,171.9 1171.7,173.5 1173.9,175.2 1175.8,176.8 1177.5,178.4 1179.1,180.1 1180.4,181.7 1181.7,183.3 1182.8,185.0 1183.7,186.6 1184.6,188.3 1185.4,189.9 1186.0,191.5 1186.6,193.2 1187.2,194.8 1187.7,196.5 1188.1,198.1 1188.5,199.7 1188.8,201.4 1189.1,203.0 1189.4,204.6 1189.7,206.3 1189.9,207.9 1190.1,209.6 1190.2,211.2 1190.4,212.8 1190.5,214.5 1190.7,216.1 1190.8,217.7 1190.9,219.4 1190.9,221.0 1191.0,222.7 1191.1,224.3 1191.1,225.9 1191.2,227.6 1191.3,229.2 1191.3,230.9 1191.3,232.5 1191.4,234.1 1191.4,235.8 1191.4,237.4 1191.5,239.0 1191.5,240.7 1191.7,280.0 1191.8,240.7 1191.8,239.0 1191.9,237.4 1191.9,235.8 1191.9,234.1 1192.0,232.5 1192.0,230.9 1192.0,229.2 1192.1,227.6 1192.2,225.9 1192.2,224.3 1192.3,222.7 1192.4,221.0 1192.4,219.4 1192.5,217.7 1192.6,216.1 1192.8,214.5 1192.9,212.8 1193.1,211.2 1193.2,209.6 1193.4,207.9 1193.6,206.3 1193.9,204.6 1194.2,203.0 1194.5,201.4 1194.8,199.7 1195.2,198.1 1195.6,196.5 1196.1,194.8 1196.7,193.2 1197.3,191.5 1197.9,189.9 1198.7,188.3 1199.6,186.6 1200.5,185.0 1201.6,183.3 1202.9,181.7 1204.2,180.1 1205.8,178.4 1207.5,176.8 1209.4,175.2 1211.6,173.5 1214.0,171.9 1216.7,170.2 1219.8,168.6 1223.2,167.0 1227.1,165.3 1231.4,163.7 1236.2,162.1 1241.7,160.4 1247.8,158.8 1254.6,157.1 1262.3,155.5 1271.0,153.9 1280.6,152.2 1291.5,150.6 1303.7,149.0 1317.3,147.3 1332.7,145.7 1349.9,144.0 1369.2,142.4" fill="none" stroke="#0000ff" stroke-width="0.95" stroke-linejoin="round"/>
<circle cx="1014.10" cy="143.30" r="3.6" fill="#0000ff"/>
<circle cx="1046.38" cy="146.50" r="3.6" fill="#0000ff"/>
<circle cx="1078.66" cy="150.40" r="3.6" fill="#0000ff"/>
<circle cx="1110.95" cy="154.30" r="3.6" fill="#0000ff"/>
<circle cx="1143.23" cy="163.00" r="3.6" fill="#0000ff"/>
<circle cx="1175.51" cy="173.30" r="3.6" fill="#0000ff"/>
<circle cx="1207.79" cy="174.20" r="3.6" fill="#0000ff"/>
<circle cx="1240.07" cy="162.30" r="3.6" fill="#0000ff"/>
<circle cx="1272.35" cy="154.60" r="3.6" fill="#0000ff"/>
<circle cx="1304.64" cy="149.10" r="3.6" fill="#0000ff"/>
<circle cx="1336.92" cy="146.30" r="3.6" fill="#0000ff"/>
<circle cx="1369.20" cy="143.30" r="3.6" fill="#0000ff"/>
<line x1="1014.10" x2="1369.20" y1="81.5" y2="81.5" stroke="#0000ff" stroke-width="1.1" stroke-dasharray="1.9 1.74"/>
<polygon points="1014.10,78.70 1017.87,86.45 1010.32,86.45" fill="#0000ff"/>
<polygon points="1046.38,78.70 1050.16,86.45 1042.61,86.45" fill="#0000ff"/>
<polygon points="1078.66,78.90 1082.44,86.65 1074.89,86.65" fill="#0000ff"/>
<polygon points="1110.95,78.90 1114.72,86.65 1107.17,86.65" fill="#0000ff"/>
<polygon points="1143.23,78.90 1147.00,86.65 1139.45,86.65" fill="#0000ff"/>
<polygon points="1175.51,78.90 1179.28,86.65 1171.73,86.65" fill="#0000ff"/>
<polygon points="1207.79,78.90 1211.57,86.65 1204.02,86.65" fill="#0000ff"/>
<polygon points="1240.07,78.70 1243.85,86.45 1236.30,86.45" fill="#0000ff"/>
<polygon points="1272.35,78.70 1276.13,86.45 1268.58,86.45" fill="#0000ff"/>
<polygon points="1304.64,78.70 1308.41,86.45 1300.86,86.45" fill="#0000ff"/>
<polygon points="1336.92,78.20 1340.69,85.95 1333.14,85.95" fill="#0000ff"/>
<polygon points="1369.20,78.20 1372.98,85.95 1365.42,85.95" fill="#0000ff"/>
<path d="M1014.1,162.6 1033.4,164.2 1050.6,165.9 1066.0,167.5 1079.6,169.2 1091.8,170.8 1102.7,172.4 1112.3,174.1 1121.0,175.7 1128.7,177.3 1135.5,179.0 1141.6,180.6 1147.1,182.3 1151.9,183.9 1156.2,185.5 1160.1,187.2 1163.5,188.8 1166.6,190.4 1169.3,192.1 1171.7,193.7 1173.9,195.4 1175.8,197.0 1177.5,198.6 1179.1,200.3 1180.4,201.9 1181.7,203.5 1182.8,205.2 1183.7,206.8 1184.6,208.5 1185.4,210.1 1186.0,211.7 1186.6,213.4 1187.2,215.0 1187.7,216.7 1188.1,218.3 1188.5,219.9 1188.8,221.6 1189.1,223.2 1189.4,224.8 1189.7,226.5 1189.9,228.1 1190.1,229.8 1190.2,231.4 1190.4,233.0 1190.5,234.7 1190.7,236.3 1190.8,237.9 1190.9,239.6 1190.9,241.2 1191.0,242.9 1191.1,244.5 1191.1,246.1 1191.2,247.8 1191.3,249.4 1191.3,251.1 1191.3,252.7 1191.4,254.3 1191.4,256.0 1191.4,257.6 1191.5,259.2 1191.5,260.9 1191.7,268.5 1191.8,260.9 1191.8,259.2 1191.9,257.6 1191.9,256.0 1191.9,254.3 1192.0,252.7 1192.0,251.1 1192.0,249.4 1192.1,247.8 1192.2,246.1 1192.2,244.5 1192.3,242.9 1192.4,241.2 1192.4,239.6 1192.5,237.9 1192.6,236.3 1192.8,234.7 1192.9,233.0 1193.1,231.4 1193.2,229.8 1193.4,228.1 1193.6,226.5 1193.9,224.8 1194.2,223.2 1194.5,221.6 1194.8,219.9 1195.2,218.3 1195.6,216.7 1196.1,215.0 1196.7,213.4 1197.3,211.7 1197.9,210.1 1198.7,208.5 1199.6,206.8 1200.5,205.2 1201.6,203.5 1202.9,201.9 1204.2,200.3 1205.8,198.6 1207.5,197.0 1209.4,195.4 1211.6,193.7 1214.0,192.1 1216.7,190.4 1219.8,188.8 1223.2,187.2 1227.1,185.5 1231.4,183.9 1236.2,182.3 1241.7,180.6 1247.8,179.0 1254.6,177.3 1262.3,175.7 1271.0,174.1 1280.6,172.4 1291.5,170.8 1303.7,169.2 1317.3,167.5 1332.7,165.9 1349.9,164.2 1369.2,162.6" fill="none" stroke="#00ff00" stroke-width="0.95" stroke-linejoin="round"/>
<circle cx="1014.10" cy="162.60" r="3.6" fill="#00ff00"/>
<circle cx="1046.38" cy="167.10" r="3.6" fill="#00ff00"/>
<circle cx="1078.66" cy="163.50" r="3.6" fill="#00ff00"/>
<circle cx="1110.95" cy="168.10" r="3.6" fill="#00ff00"/>
<circle cx="1143.23" cy="214.60" r="3.6" fill="#00ff00"/>
<circle cx="1175.51" cy="184.10" r="3.6" fill="#00ff00"/>
<circle cx="1207.79" cy="195.10" r="3.6" fill="#00ff00"/>
<circle cx="1240.07" cy="171.70" r="3.6" fill="#00ff00"/>
<circle cx="1272.35" cy="165.10" r="3.6" fill="#00ff00"/>
<circle cx="1304.64" cy="170.60" r="3.6" fill="#00ff00"/>
<circle cx="1336.92" cy="172.40" r="3.6" fill="#00ff00"/>
<circle cx="1369.20" cy="164.40" r="3.6" fill="#00ff00"/>
<line x1="1014.10" x2="1369.20" y1="102.0" y2="102.0" stroke="#00ff00" stroke-width="1.1" stroke-dasharray="1.9 1.74"/>
<polygon points="1014.10,98.10 1017.87,105.85 1010.32,105.85" fill="#00ff00"/>
<polygon points="1046.38,98.10 1050.16,105.85 1042.61,105.85" fill="#00ff00"/>
<polygon points="1078.66,98.60 1082.44,106.35 1074.89,106.35" fill="#00ff00"/>
<polygon points="1110.95,98.80 1114.72,106.55 1107.17,106.55" fill="#00ff00"/>
<polygon points="1143.23,98.80 1147.00,106.55 1139.45,106.55" fill="#00ff00"/>
<polygon points="1175.51,99.30 1179.28,107.05 1171.73,107.05" fill="#00ff00"/>
<polygon points="1207.79,98.80 1211.57,106.55 1204.02,106.55" fill="#00ff00"/>
<polygon points="1240.07,98.60 1243.85,106.35 1236.30,106.35" fill="#00ff00"/>
<polygon points="1272.35,98.80 1276.13,106.55 1268.58,106.55" fill="#00ff00"/>
<polygon points="1304.64,98.80 1308.41,106.55 1300.86,106.55" fill="#00ff00"/>
<polygon points="1336.92,98.10 1340.69,105.85 1333.14,105.85" fill="#00ff00"/>
<polygon points="1369.20,97.70 1372.98,105.45 1365.42,105.45" fill="#00ff00"/>
<rect x="1006.90" y="51.0" width="369.75" height="229.00" fill="none" stroke="#151515" stroke-width="1.1"/>
<line x1="1006.90" x2="1009.20" y1="67.20" y2="67.20" stroke="#151515" stroke-width="1.1"/>
<text transform="translate(953.23 73.83) scale(0.976 1.020)" font-size="25.5">10</text>
<text transform="translate(978.85 66.28) scale(0.999 0.913)" font-size="25.5">−</text>
<text transform="translate(992.67 63.08) scale(0.759 0.673)" font-size="25.5">2</text>
<line x1="1006.90" x2="1009.20" y1="99.96" y2="99.96" stroke="#151515" stroke-width="1.1"/>
<text transform="translate(953.23 106.59) scale(0.976 1.020)" font-size="25.5">10</text>
<text transform="translate(978.85 99.04) scale(0.999 0.913)" font-size="25.5">−</text>
<text transform="translate(993.19 95.84) scale(0.655 0.677)" font-size="25.5">4</text>
<line x1="1006.90" x2="1009.20" y1="132.72" y2="132.72" stroke="#151515" stroke-width="1.1"/>
<text transform="translate(953.23 139.35) scale(0.976 1.020)" font-size="25.5">10</text>
<text transform="translate(978.85 131.80) scale(0.999 0.913)" font-size="25.5">−</text>
<text transform="translate(992.74 128.43) scale(0.712 0.663)" font-size="25.5">6</text>
<line x1="1006.90" x2="1009.20" y1="165.48" y2="165.48" stroke="#151515" stroke-width="1.1"/>
<text transform="translate(953.23 172.11) scale(0.976 1.020)" font-size="25.5">10</text>
<text transform="translate(978.85 164.56) scale(0.999 0.913)" font-size="25.5">−</text>
<text transform="translate(992.82 161.20) scale(0.718 0.660)" font-size="25.5">8</text>
<line x1="1006.90" x2="1009.20" y1="198.24" y2="198.24" stroke="#151515" stroke-width="1.1"/>
<text transform="translate(944.11 204.87) scale(0.985 1.020)" font-size="25.5">10</text>
<text transform="translate(969.78 197.32) scale(0.974 0.913)" font-size="25.5">−</text>
<text transform="translate(983.95 193.96) scale(0.703 0.660)" font-size="25.5">10</text>
<line x1="1006.90" x2="1009.20" y1="231.00" y2="231.00" stroke="#151515" stroke-width="1.1"/>
<text transform="translate(944.11 237.63) scale(0.985 1.020)" font-size="25.5">10</text>
<text transform="translate(969.78 230.08) scale(0.974 0.913)" font-size="25.5">−</text>
<text transform="translate(983.91 226.88) scale(0.717 0.673)" font-size="25.5">12</text>
<line x1="1006.90" x2="1009.20" y1="263.76" y2="263.76" stroke="#151515" stroke-width="1.1"/>
<text transform="translate(944.11 270.39) scale(0.985 1.020)" font-size="25.5">10</text>
<text transform="translate(969.78 262.84) scale(0.974 0.913)" font-size="25.5">−</text>
<text transform="translate(983.98 259.64) scale(0.685 0.675)" font-size="25.5">14</text>
<line x1="1014.10" x2="1014.10" y1="280.0" y2="277.2" stroke="#151515" stroke-width="1.1"/>
<line x1="1102.88" x2="1102.88" y1="280.0" y2="277.2" stroke="#151515" stroke-width="1.1"/>
<line x1="1191.65" x2="1191.65" y1="280.0" y2="277.2" stroke="#151515" stroke-width="1.1"/>
<line x1="1280.43" x2="1280.43" y1="280.0" y2="277.2" stroke="#151515" stroke-width="1.1"/>
<line x1="1369.20" x2="1369.20" y1="280.0" y2="277.2" stroke="#151515" stroke-width="1.1"/>
<text transform="translate(981.72 309.30) scale(1.337 1.228)" font-size="25.5">−</text>
<text transform="translate(1001.45 305.51) scale(1.003 1.031)" font-size="25.5">0.01</text>
<text transform="translate(1064.28 309.30) scale(1.294 1.228)" font-size="25.5">−</text>
<text transform="translate(1083.33 305.70) scale(1.015 1.043)" font-size="25.5">0.005</text>
<text transform="translate(1185.22 305.82) scale(1.033 1.050)" font-size="25.5">0</text>
<text transform="translate(1251.13 305.70) scale(1.015 1.043)" font-size="25.5">0.005</text>
<text transform="translate(1346.04 305.51) scale(1.013 1.031)" font-size="25.5">0.01</text>
<text transform="translate(1184.13 343.72) scale(1.178 1.006)" font-size="25.5" font-style="italic" stroke="#fff" stroke-width="0.40">ϕ</text>
</g>
<line x1="1406.3" x2="1451.4" y1="74.40" y2="74.40" stroke="#ff0000" stroke-width="0.95"/>
<rect x="1425.45" y="70.60" width="6.9" height="6.9" fill="#ff0000"/>
<text transform="translate(1456.38 76.08) scale(1.258 0.896)" font-size="25.5" font-style="italic" stroke="#fff" stroke-width="0.22">n</text>
<text transform="translate(1477.94 77.32) scale(1.480 0.747)" font-size="25.5">=</text>
<text transform="translate(1505.73 75.90) scale(0.976 1.000)" font-size="25.5">1</text>
<text transform="translate(1526.96 76.00) scale(1.129 1.010)" font-size="25.5" font-style="italic" stroke="#fff" stroke-width="0.40">ϕ</text>
<text transform="translate(1541.40 80.12) scale(0.737 0.631)" font-size="25.5">0</text>
<text transform="translate(1558.14 77.32) scale(1.480 0.747)" font-size="25.5">=</text>
<text transform="translate(1586.41 75.95) scale(1.037 1.019)" font-size="25.5" font-style="italic" stroke="#fff" stroke-width="0.40">ϕ</text>
<text transform="translate(1601.06 62.79) scale(0.787 0.680)" font-size="25.5">opt</text>
<text transform="translate(1601.06 83.36) scale(0.786 0.669)" font-size="25.5">0,e</text>
<line x1="1406.3" x2="1451.4" y1="125.75" y2="125.75" stroke="#0000ff" stroke-width="0.95"/>
<circle cx="1428.60" cy="126.50" r="4.3" fill="#0000ff"/>
<text transform="translate(1456.38 127.43) scale(1.258 0.896)" font-size="25.5" font-style="italic" stroke="#fff" stroke-width="0.22">n</text>
<text transform="translate(1477.94 128.67) scale(1.480 0.747)" font-size="25.5">=</text>
<text transform="translate(1505.94 127.25) scale(0.965 1.000)" font-size="25.5">2</text>
<text transform="translate(1520.19 127.24) scale(0.858 1.170)" font-size="25.5">,</text>
<text transform="translate(1538.66 127.35) scale(1.129 1.010)" font-size="25.5" font-style="italic" stroke="#fff" stroke-width="0.40">ϕ</text>
<text transform="translate(1553.10 131.47) scale(0.737 0.631)" font-size="25.5">0</text>
<text transform="translate(1569.84 128.67) scale(1.480 0.747)" font-size="25.5">=</text>
<text transform="translate(1598.11 127.30) scale(1.037 1.019)" font-size="25.5" font-style="italic" stroke="#fff" stroke-width="0.40">ϕ</text>
<text transform="translate(1612.76 114.14) scale(0.787 0.680)" font-size="25.5">opt</text>
<text transform="translate(1612.77 134.71) scale(0.774 0.669)" font-size="25.5">0,mit</text>
<line x1="1406.3" x2="1451.4" y1="182.85" y2="182.85" stroke="#0000ff" stroke-width="1.05" stroke-dasharray="1.9 1.74"/>
<polygon points="1428.85,179.50 1433.15,188.10 1424.55,188.10" fill="#0000ff"/>
<text transform="translate(1456.38 184.53) scale(1.258 0.896)" font-size="25.5" font-style="italic" stroke="#fff" stroke-width="0.22">n</text>
<text transform="translate(1477.94 185.77) scale(1.480 0.747)" font-size="25.5">=</text>
<text transform="translate(1505.94 184.35) scale(0.965 1.000)" font-size="25.5">2</text>
<text transform="translate(1520.19 184.34) scale(0.858 1.170)" font-size="25.5">,</text>
<text transform="translate(1538.66 184.45) scale(1.129 1.010)" font-size="25.5" font-style="italic" stroke="#fff" stroke-width="0.40">ϕ</text>
<text transform="translate(1553.10 188.57) scale(0.737 0.631)" font-size="25.5">0</text>
<text transform="translate(1569.84 185.77) scale(1.480 0.747)" font-size="25.5">=</text>
<line x1="1599.8" x2="1626.6" y1="177.50" y2="177.50" stroke="#000" stroke-width="1"/>
<text transform="translate(1605.69 166.66) scale(0.927 0.875)" font-size="25.5" font-style="italic">π</text>
<text transform="translate(1600.43 201.68) scale(0.977 0.993)" font-size="25.5">12</text>
<line x1="1406.3" x2="1451.4" y1="233.85" y2="233.85" stroke="#00ff00" stroke-width="0.95"/>
<circle cx="1428.60" cy="234.60" r="4.3" fill="#00ff00"/>
<text transform="translate(1456.38 235.53) scale(1.258 0.896)" font-size="25.5" font-style="italic" stroke="#fff" stroke-width="0.22">n</text>
<text transform="translate(1477.94 236.77) scale(1.480 0.747)" font-size="25.5">=</text>
<text transform="translate(1505.88 235.35) scale(0.936 1.000)" font-size="25.5">3</text>
<text transform="translate(1520.19 235.34) scale(0.858 1.170)" font-size="25.5">,</text>
<text transform="translate(1538.66 235.45) scale(1.129 1.010)" font-size="25.5" font-style="italic" stroke="#fff" stroke-width="0.40">ϕ</text>
<text transform="translate(1553.10 239.57) scale(0.737 0.631)" font-size="25.5">0</text>
<text transform="translate(1569.84 236.77) scale(1.480 0.747)" font-size="25.5">=</text>
<text transform="translate(1598.11 235.40) scale(1.037 1.019)" font-size="25.5" font-style="italic" stroke="#fff" stroke-width="0.40">ϕ</text>
<text transform="translate(1612.76 222.24) scale(0.787 0.680)" font-size="25.5">opt</text>
<text transform="translate(1612.77 242.81) scale(0.774 0.669)" font-size="25.5">0,mit</text>
<line x1="1406.3" x2="1451.4" y1="290.65" y2="290.65" stroke="#00ff00" stroke-width="1.05" stroke-dasharray="1.9 1.74"/>
<polygon points="1428.85,287.30 1433.15,295.90 1424.55,295.90" fill="#00ff00"/>
<text transform="translate(1456.38 292.33) scale(1.258 0.896)" font-size="25.5" font-style="italic" stroke="#fff" stroke-width="0.22">n</text>
<text transform="translate(1477.94 293.57) scale(1.480 0.747)" font-size="25.5">=</text>
<text transform="translate(1505.88 292.15) scale(0.936 1.000)" font-size="25.5">3</text>
<text transform="translate(1520.19 292.14) scale(0.858 1.170)" font-size="25.5">,</text>
<text transform="translate(1538.66 292.25) scale(1.129 1.010)" font-size="25.5" font-style="italic" stroke="#fff" stroke-width="0.40">ϕ</text>
<text transform="translate(1553.10 296.37) scale(0.737 0.631)" font-size="25.5">0</text>
<text transform="translate(1569.84 293.57) scale(1.480 0.747)" font-size="25.5">=</text>
<line x1="1599.8" x2="1626.6" y1="285.50" y2="285.50" stroke="#000" stroke-width="1"/>
<text transform="translate(1605.69 274.46) scale(0.927 0.875)" font-size="25.5" font-style="italic">π</text>
<text transform="translate(1600.43 309.48) scale(0.977 0.993)" font-size="25.5">12</text>
</svg>
</body></html>
